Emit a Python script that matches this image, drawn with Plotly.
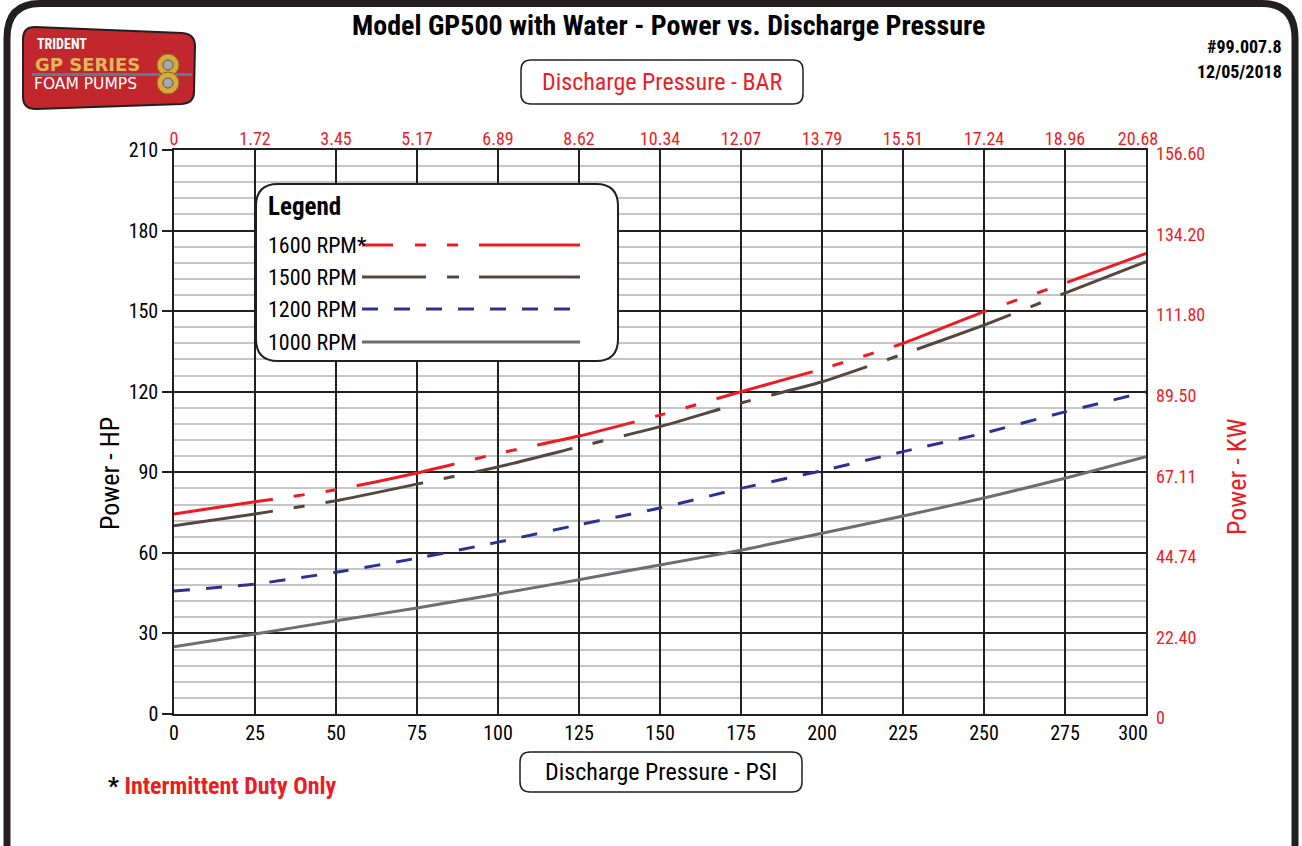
import plotly.graph_objects as go

# ---------------- data ----------------
psi = [0, 25, 50, 75, 100, 125, 150, 175, 200, 225, 250, 275, 300]
psi_labels = ["0", "25", "50", "75", "100", "125", "150", "175", "200", "225", "250", "275", "300"]
hp_1600 = [74.5, 79, 83.5, 89.7, 97, 103.5, 111.3, 120, 128.5, 138, 149.8, 160.4, 171.5]
hp_1500 = [70.1, 74.5, 79.4, 85.6, 92, 99.5, 107, 115.8, 123.7, 134, 144.8, 156.7, 168.4]
hp_1200 = [45.8, 48.4, 52.8, 58, 64, 70.5, 76.7, 84, 90.6, 97.7, 104.6, 112.5, 119.9]
hp_1000 = [25, 29.8, 34.7, 39.5, 44.7, 50, 55.5, 61, 67.3, 73.7, 80.4, 87.8, 95.8]
series_names = ["1600 RPM*", "1500 RPM", "1200 RPM", "1000 RPM"]
bar_labels = ["0", "1.72", "3.45", "5.17", "6.89", "8.62", "10.34", "12.07",
              "13.79", "15.51", "17.24", "18.96", "20.68"]
hp_ticks = [0, 30, 60, 90, 120, 150, 180, 210]
kw_labels = ["0", "22.40", "44.74", "67.11", "89.50", "111.80", "134.20", "156.60"]

# ---------------- styling ----------------
W, H = 1302, 846
L, R, T, B = 174, 156, 150, 132
PW, PH = W - L - R, H - T - B
DARK = "#231F20"
RED = "#ED1C24"
BROWN = "#574640"
BLUE = "#2E3192"
GRAY = "#6D6E71"
MINOR = "#C4C6C8"
FONT = "Liberation Sans Narrow, Arial Narrow, Roboto Condensed, sans-serif"
WIDE = "DejaVu Sans, Verdana, sans-serif"

colors = [RED, BROWN, BLUE, GRAY]
dashes = ["100px,21px,11px,21px,11px,21px", "100px,21px,11px,21px", "16px,16px", "solid"]
legend_dashes = ["31px,22px,11px,21px,11px,21px,120px", "64px,21px,12px,20px,120px", "16px,16px", "solid"]
series = [hp_1600, hp_1500, hp_1200, hp_1000]


def px(x):
    return (x - L) / PW


def py(y):
    return (T + PH - y) / PH


def rrect(x0, y0, x1, y1, r):
    """rounded rectangle path in paper coords from pixel coords"""
    pts = [
        f"M{px(x0 + r)},{py(y0)}", f"L{px(x1 - r)},{py(y0)}",
        f"Q{px(x1)},{py(y0)} {px(x1)},{py(y0 + r)}", f"L{px(x1)},{py(y1 - r)}",
        f"Q{px(x1)},{py(y1)} {px(x1 - r)},{py(y1)}", f"L{px(x0 + r)},{py(y1)}",
        f"Q{px(x0)},{py(y1)} {px(x0)},{py(y1 - r)}", f"L{px(x0)},{py(y0 + r)}",
        f"Q{px(x0)},{py(y0)} {px(x0 + r)},{py(y0)}", "Z",
    ]
    return " ".join(pts)


fig = go.Figure()
for name, ys, c, d in zip(series_names, series, colors, dashes):
    fig.add_trace(go.Scatter(x=psi, y=ys, name=name, mode="lines",
                             line=dict(color=c, width=3, dash=d, shape="spline", smoothing=0.6),
                             showlegend=False, hoverinfo="skip"))
# carrier traces so the secondary axes (BAR top, KW right, last-label axes) get drawn
for xa, ya in (("x2", "y2"), ("x3", "y"), ("x4", "y")):
    fig.add_trace(go.Scatter(x=psi, y=hp_1600, xaxis=xa, yaxis=ya, mode="lines",
                             line=dict(width=0), opacity=0, showlegend=False, hoverinfo="skip"))

shapes = []
# outer frame
frame = (f"M{px(7)},{py(900)} L{px(7)},{py(38)} Q{px(7)},{py(3.5)} {px(40)},{py(3.5)} "
         f"L{px(1262)},{py(3.5)} Q{px(1295)},{py(3.5)} {px(1295)},{py(38)} L{px(1295)},{py(900)}")
shapes.append(dict(type="path", xref="paper", yref="paper", path=frame,
                   line=dict(color=DARK, width=7)))
# logo
logo = (f"M{px(35)},{py(27)} L{px(182)},{py(33)} Q{px(195)},{py(34)} {px(195)},{py(46)} "
        f"L{px(194)},{py(92)} Q{px(194)},{py(103)} {px(182)},{py(104)} L{px(36)},{py(109)} "
        f"Q{px(23)},{py(109)} {px(23)},{py(97)} L{px(23)},{py(39)} Q{px(23)},{py(27)} {px(35)},{py(27)} Z")
shapes.append(dict(type="path", xref="paper", yref="paper", path=logo,
                   fillcolor="#C1272D", line=dict(color=DARK, width=2)))
shapes.append(dict(type="line", xref="paper", yref="paper", x0=px(32), x1=px(192), y0=py(74.5), y1=py(74.5),
                   line=dict(color="#5B7A99", width=3)))
for gy in (65, 83):
    shapes.append(dict(type="circle", xref="paper", yref="paper", x0=px(157), x1=px(179),
                       y0=py(gy - 11), y1=py(gy + 11), fillcolor="#D9A93A", line=dict(color="#8A6A1E", width=1)))
    shapes.append(dict(type="circle", xref="paper", yref="paper", x0=px(163), x1=px(173),
                       y0=py(gy - 5), y1=py(gy + 5), fillcolor="#A7A9AC", line=dict(color="#555", width=1)))
# BAR / PSI boxes
shapes.append(dict(type="path", xref="paper", yref="paper", path=rrect(521, 60, 803, 104, 10),
                   fillcolor="white", line=dict(color=DARK, width=1.5)))
shapes.append(dict(type="path", xref="paper", yref="paper", path=rrect(520, 752, 802, 792, 10),
                   fillcolor="white", line=dict(color=DARK, width=1.5)))
# legend box
shapes.append(dict(type="path", xref="paper", yref="paper", path=rrect(256, 184, 618, 361, 22),
                   fillcolor="white", line=dict(color=DARK, width=2), layer="above"))
legend_y = [245, 277, 309, 342]
legend_x1 = [580, 580, 572, 580]
for c, d, ly, lx1 in zip(colors, legend_dashes, legend_y, legend_x1):
    shapes.append(dict(type="line", xref="paper", yref="paper", x0=px(362), x1=px(lx1),
                       y0=py(ly), y1=py(ly), line=dict(color=c, width=3, dash=d), layer="above"))

annotations = []


def ann(text, x, y, size, color="black", xanchor="center", yanchor="middle", textangle=0, family=FONT):
    annotations.append(dict(text=text, x=px(x), y=py(y), xref="paper", yref="paper",
                            showarrow=False, xanchor=xanchor, yanchor=yanchor,
                            font=dict(family=family, size=size, color=color), textangle=textangle))


ann("<b>Model GP500 with Water - Power vs. Discharge Pressure</b>", 668, 25, 28)
ann("<b>#99.007.8</b>", 1284, 47, 18, xanchor="right")
ann("<b>12/05/2018</b>", 1284, 72, 18, xanchor="right")
ann("Discharge Pressure - BAR", 662, 82, 24, color=RED)
ann("Discharge Pressure - PSI", 661, 772, 24)
ann("Power - HP", 110, 474, 26, textangle=-90)
ann("Power - KW", 1237, 477, 26, color=RED, textangle=-90)
ann("<b>* <span style='color:#ED1C24'>Intermittent Duty Only</span></b>", 106, 786, 24, xanchor="left")
ann("<b>Legend</b>", 266, 206, 25, xanchor="left")
for name, ly in zip(series_names, legend_y):
    ann(name, 266, ly, 22, xanchor="left")
# logo text
ann("<b>TRIDENT</b>", 35, 44, 14, color="white", xanchor="left")
ann("<b>GP SERIES</b>", 33, 65, 18, color="#E2B659", xanchor="left", family=WIDE)
ann("FOAM PUMPS", 32, 84, 15.5, color="white", xanchor="left", family=WIDE)

common_x = dict(range=[0, 300], showgrid=False, zeroline=False, ticks="", showline=False)
fig.update_layout(
    width=W, height=H,
    margin=dict(l=L, r=R, t=T, b=B, pad=0),
    paper_bgcolor="white", plot_bgcolor="white",
    font=dict(family=FONT, size=20, color="black"),
    shapes=shapes, annotations=annotations,
    # bottom PSI axis (all labels except the last one, which sits inside the frame)
    xaxis=dict(range=[0, 300], tickvals=psi, ticktext=psi_labels[:-1] + [""], showgrid=True,
               gridcolor=DARK, gridwidth=1.5, zeroline=False, showline=True, linecolor=DARK,
               linewidth=1.5, mirror=True, ticks="", tickfont=dict(size=20, color="black"),
               ticklabelstandoff=0),
    xaxis3=dict(common_x, overlaying="x", side="bottom", anchor="y", tickvals=psi[-1:],
                ticktext=psi_labels[-1:], tickfont=dict(size=20, color="black"),
                ticklabelstandoff=5, ticklabelshift=-13),
    yaxis=dict(range=[0, 210], tickvals=hp_ticks, showgrid=True, gridcolor=DARK, gridwidth=1.5,
               zeroline=False, showline=True, linecolor=DARK, linewidth=1.5, mirror=True,
               ticks="outside", ticklen=10, tickwidth=1.5, tickcolor=DARK,
               tickfont=dict(size=20, color="black"),
               minor=dict(dtick=6, showgrid=True, gridcolor=MINOR, gridwidth=2, ticks="")),
    # top BAR axis
    xaxis2=dict(common_x, overlaying="x", side="top", anchor="y", tickvals=psi,
                ticktext=bar_labels[:-1] + [""], tickfont=dict(size=18, color=RED),
                ticklabelstandoff=0),
    xaxis4=dict(common_x, overlaying="x", side="top", anchor="y", tickvals=psi[-1:],
                ticktext=bar_labels[-1:], tickfont=dict(size=18, color=RED),
                ticklabelstandoff=0, ticklabelshift=-8),
    # right KW axis
    yaxis2=dict(range=[0, 210], overlaying="y", side="right", anchor="x", tickvals=hp_ticks,
                ticktext=kw_labels, showgrid=False, zeroline=False, ticks="", showline=False,
                tickfont=dict(size=18, color=RED), ticklabelstandoff=9, ticklabelshift=4),
)

fig.write_html("out.html", config={"displayModeBar": False},
               post_script="document.body.style.margin='0';document.documentElement.style.overflow='hidden';")
